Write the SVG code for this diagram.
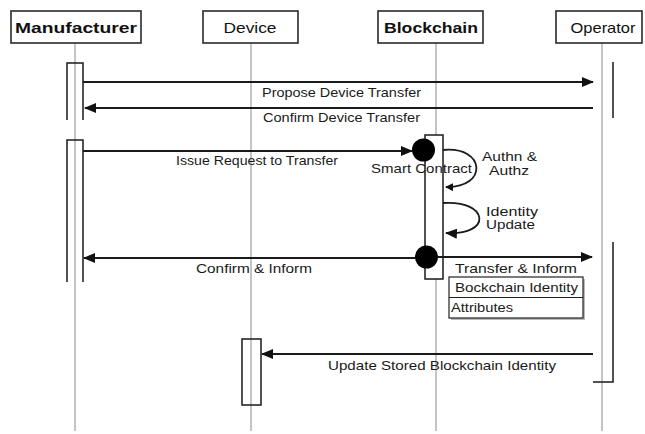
<svg xmlns="http://www.w3.org/2000/svg" width="645" height="434" viewBox="0 0 645 434">
  <style>
    .head { fill: #fff; stroke: #2a2a2a; stroke-width: 1.6; }
    .htxt { font-family: "Liberation Sans", Arial, sans-serif; font-size: 15px; fill: #111; }
    .life { stroke: #8a8a8a; stroke-width: 1; fill: none; }
    .act { stroke: #1a1a1a; stroke-width: 1.5; fill: none; }
    .msg { stroke: #1a1a1a; stroke-width: 1.8; fill: none; }
    .lbl { font-family: "Liberation Sans", Arial, sans-serif; font-size: 13.5px; fill: #1a1a1a; }
    .sm { font-size: 12px; }
  </style>
  <defs>
    <marker id="arrow" viewBox="0 0 12 10" refX="11" refY="5" markerWidth="12" markerHeight="10" markerUnits="userSpaceOnUse" orient="auto">
      <path d="M0,0 L12,5 L0,10 Z" fill="#111"/>
    </marker>
    <marker id="arrowSmall" viewBox="0 0 8 8" refX="7" refY="4" markerWidth="8" markerHeight="8" markerUnits="userSpaceOnUse" orient="auto">
      <path d="M0,0 L8,4 L0,8 Z" fill="#111"/>
    </marker>
  </defs>

  <rect width="645" height="434" fill="#fff"/>

  <!-- lifelines -->
  <g id="lifelines">
    <line class="life" x1="75" y1="43" x2="75" y2="431"/>
    <line class="life" x1="251" y1="43" x2="251" y2="431"/>
    <line class="life" x1="436" y1="43" x2="436" y2="431"/>
    <line class="life" x1="602" y1="43" x2="602" y2="431"/>
  </g>

  <!-- participants -->
  <g id="manufacturer">
    <rect class="head" x="11" y="11" width="130" height="32"/>
    <text class="htxt" x="76" y="33" text-anchor="middle" font-weight="bold" textLength="122" lengthAdjust="spacingAndGlyphs">Manufacturer</text>
    <path class="act" d="M67,120 V63 H83 V120"/>
    <path class="act" d="M67,282 V140 H83 V282"/>
  </g>

  <g id="device">
    <rect class="head" x="203" y="11" width="95" height="32"/>
    <text class="htxt" x="250" y="33" text-anchor="middle" textLength="53" lengthAdjust="spacingAndGlyphs">Device</text>
    <rect class="act" x="242" y="339" width="19" height="66"/>
  </g>

  <g id="blockchain">
    <rect class="head" x="378" y="11" width="105" height="32"/>
    <text class="htxt" x="431" y="33" text-anchor="middle" font-weight="bold" textLength="94" lengthAdjust="spacingAndGlyphs">Blockchain</text>
    <rect x="425" y="135" width="18" height="144" fill="#fff" stroke="#1a1a1a" stroke-width="1.5"/>
  </g>

  <g id="operator">
    <rect class="head" x="556" y="11" width="86" height="32"/>
    <text class="htxt" x="603" y="33" text-anchor="middle" textLength="65" lengthAdjust="spacingAndGlyphs">Operator</text>
    <line class="act" x1="613" y1="62" x2="613" y2="118"/>
    <path class="act" d="M613,242 V382 H593"/>
  </g>

  <g id="smart-contract">
    <circle cx="423.5" cy="150" r="11.5" fill="#000"/>
    <circle cx="426.5" cy="257" r="11.5" fill="#000"/>
    <text class="lbl" x="371" y="173" textLength="101" lengthAdjust="spacingAndGlyphs">Smart Contract</text>
  </g>

  <g id="identity-record">
    <rect x="451" y="279" width="134" height="41" fill="#bbb"/>
    <rect x="449" y="277" width="134" height="41" fill="#fff" stroke="#222" stroke-width="1.2"/>
    <line x1="449" y1="297.5" x2="583" y2="297.5" stroke="#222" stroke-width="1.2"/>
    <text class="lbl" x="455" y="292" textLength="123" lengthAdjust="spacingAndGlyphs">Bockchain Identity</text>
    <text class="lbl" x="451" y="312" textLength="62" lengthAdjust="spacingAndGlyphs">Attributes</text>
  </g>

  <!-- messages -->
  <g id="connectors">
    <line class="msg" x1="83" y1="82" x2="593" y2="82" marker-end="url(#arrow)"/>
    <line class="msg" x1="593" y1="108" x2="85" y2="108" marker-end="url(#arrow)"/>
    <line class="msg" x1="83" y1="151" x2="412" y2="151" marker-end="url(#arrow)"/>
    <path class="msg" stroke-width="1.4" d="M443,150 C486,146 488,188 446,187" marker-end="url(#arrowSmall)"/>
    <path class="msg" stroke-width="1.4" d="M443,203 C490,200 492,236 446,233" marker-end="url(#arrow)"/>
    <line class="msg" stroke-width="2.4" x1="415" y1="258" x2="84" y2="258" marker-end="url(#arrow)"/>
    <line class="msg" stroke-width="2.4" x1="438" y1="257" x2="592" y2="257" marker-end="url(#arrow)"/>
    <line class="msg" stroke-width="1.5" x1="593" y1="354" x2="262" y2="354" marker-end="url(#arrow)"/>
  </g>

  <!-- message labels -->
  <g id="labels">
    <text class="lbl" x="262" y="97" textLength="159" lengthAdjust="spacingAndGlyphs">Propose Device Transfer</text>
    <text class="lbl" x="263" y="122" textLength="157" lengthAdjust="spacingAndGlyphs">Confirm Device Transfer</text>
    <text class="lbl" x="176" y="165" textLength="162" lengthAdjust="spacingAndGlyphs">Issue Request to Transfer</text>
    <text class="lbl" x="482" y="161" textLength="55" lengthAdjust="spacingAndGlyphs">Authn &amp;</text>
    <text class="lbl" x="489" y="175" textLength="40" lengthAdjust="spacingAndGlyphs">Authz</text>
    <text class="lbl sm" x="486" y="216" textLength="52" lengthAdjust="spacingAndGlyphs">Identity</text>
    <text class="lbl sm" x="486" y="229" textLength="49" lengthAdjust="spacingAndGlyphs">Update</text>
    <text class="lbl" x="196" y="273" textLength="116" lengthAdjust="spacingAndGlyphs">Confirm &amp; Inform</text>
    <text class="lbl" x="455" y="273" textLength="122" lengthAdjust="spacingAndGlyphs">Transfer &amp; Inform</text>
    <text class="lbl" x="328" y="370" textLength="228" lengthAdjust="spacingAndGlyphs">Update Stored Blockchain Identity</text>
  </g>
</svg>
